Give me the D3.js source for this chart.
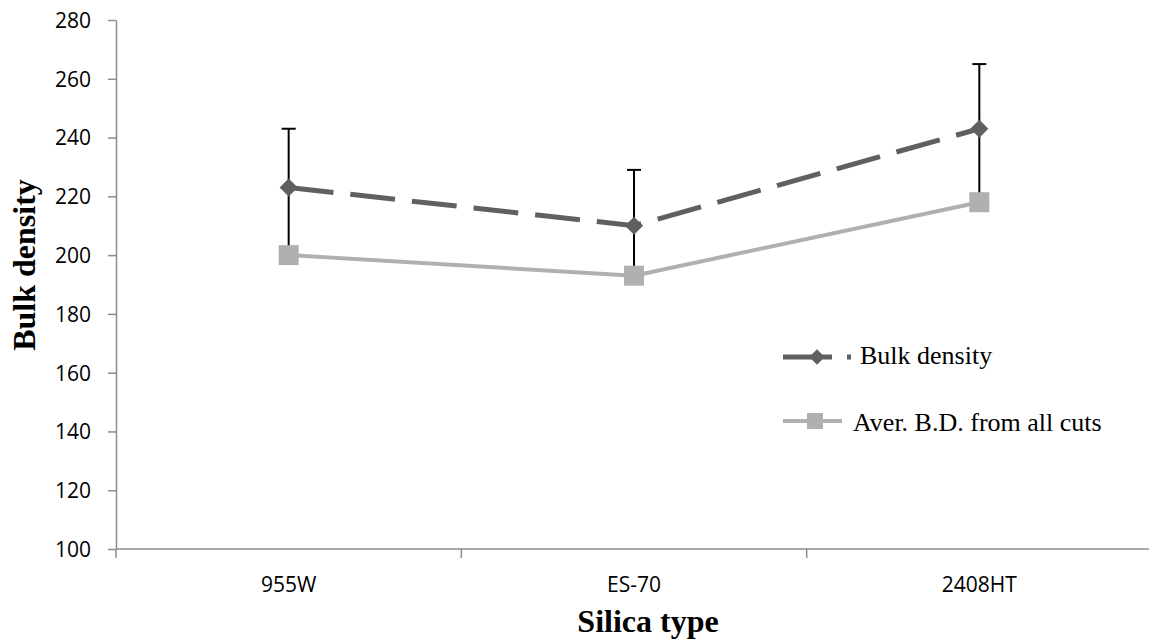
<!DOCTYPE html>
<html>
<head>
<meta charset="utf-8">
<script src="https://d3js.org/d3.v7.min.js"></script>
<style>
  body { margin: 0; background: #fff; }
  .axis path, .axis line { stroke: #8c8c8c; stroke-width: 1.5; }
  .axis text { font-family: "Open Sans", sans-serif; font-size: 21px; fill: #000; }
  .title { font-family: "Liberation Serif", serif; font-weight: bold; font-size: 32px; fill: #000; }
  .legend text { font-family: "Liberation Serif", serif; font-size: 26px; fill: #000; }
</style>
</head>
<body>
<div id="chart"></div>
<script>
// data
var categories = ["955W", "ES-70", "2408HT"];
var bulkDensity = [223, 210, 243];
var bulkError = [20, 19, 22];
var averageBD = [200, 193, 218];
var yTicks = [100, 120, 140, 160, 180, 200, 220, 240, 260, 280];
var seriesNames = ["Bulk density", "Aver. B.D. from all cuts"];

var width = 1149, height = 644;
var margin = {top: 20, right: -3, bottom: 95, left: 116};

var svg = d3.select("#chart").append("svg")
    .attr("width", width)
    .attr("height", height);

var x = d3.scaleBand()
    .domain(categories)
    .range([margin.left, width - margin.right]);

var y = d3.scaleLinear()
    .domain([100, 280])
    .range([height - margin.bottom, margin.top]);

var cx = function(i) { return x(categories[i]) + x.bandwidth() / 2; };

// x axis, ticks sit between the categories
var xAxis = svg.append("g")
    .attr("class", "axis")
    .attr("transform", "translate(0," + y(100) + ")");
xAxis.append("line")
    .attr("x1", margin.left).attr("x2", width)
    .attr("y1", 0).attr("y2", 0);
xAxis.selectAll(".tk")
    .data(categories)
    .enter().append("line")
    .attr("x1", function(d) { return x(d); })
    .attr("x2", function(d) { return x(d); })
    .attr("y1", 0).attr("y2", 9);
xAxis.selectAll("text")
    .data(categories)
    .enter().append("text")
    .attr("x", function(d) { return x(d) + x.bandwidth() / 2; })
    .attr("y", 43)
    .attr("text-anchor", "middle")
    .text(function(d) { return d; });

// y axis
var yAxis = svg.append("g")
    .attr("class", "axis")
    .attr("transform", "translate(" + margin.left + ",0)")
    .call(d3.axisLeft(y).tickValues(yTicks).tickSize(8).tickSizeOuter(0).tickPadding(17));
yAxis.selectAll("text").attr("dy", "0.35em");

// axis titles
svg.append("text")
    .attr("class", "title")
    .attr("transform", "translate(35,265) rotate(-90)")
    .attr("text-anchor", "middle")
    .text("Bulk density");

svg.append("text")
    .attr("class", "title")
    .attr("x", 648)
    .attr("y", 632)
    .attr("text-anchor", "middle")
    .text("Silica type");

// error bars (drawn under the markers)
var errG = svg.append("g");
bulkDensity.forEach(function(v, i) {
  var e = bulkError[i];
  errG.append("line")
      .attr("x1", cx(i)).attr("x2", cx(i))
      .attr("y1", y(v + e)).attr("y2", y(v - e))
      .attr("stroke", "#000").attr("stroke-width", 2);
  errG.append("line")
      .attr("x1", cx(i) - 7).attr("x2", cx(i) + 7)
      .attr("y1", y(v + e)).attr("y2", y(v + e))
      .attr("stroke", "#000").attr("stroke-width", 2);
});

var line = d3.line()
    .x(function(d, i) { return cx(i); })
    .y(function(d) { return y(d); });

// bulk density, dashed
svg.append("path")
    .datum(bulkDensity)
    .attr("fill", "none")
    .attr("stroke", "#606060")
    .attr("stroke-width", 5)
    .attr("stroke-dasharray", "45,17")
    .attr("d", line);

// average
svg.append("path")
    .datum(averageBD)
    .attr("fill", "none")
    .attr("stroke", "#b0b0b0")
    .attr("stroke-width", 4)
    .attr("d", line);

var diamond = d3.symbol().type(d3.symbolDiamond2).size(210);
var square = d3.symbol().type(d3.symbolSquare).size(400);

svg.selectAll(".dia")
    .data(bulkDensity)
    .enter().append("path")
    .attr("class", "dia")
    .attr("d", diamond)
    .attr("fill", "#606060")
    .attr("transform", function(d, i) { return "translate(" + cx(i) + "," + y(d) + ")"; });

svg.selectAll(".sq")
    .data(averageBD)
    .enter().append("path")
    .attr("class", "sq")
    .attr("d", square)
    .attr("fill", "#b0b0b0")
    .attr("transform", function(d, i) { return "translate(" + cx(i) + "," + y(d) + ")"; });

// legend
var legend = svg.append("g").attr("class", "legend");
var l1 = legend.append("g").attr("transform", "translate(783,357)");
l1.append("line").attr("x1", 0).attr("x2", 49).attr("y1", 0).attr("y2", 0)
    .attr("stroke", "#606060").attr("stroke-width", 5);
l1.append("rect").attr("x", 64).attr("y", -2.5).attr("width", 4).attr("height", 5)
    .attr("fill", "#606060");
l1.append("path").attr("d", diamond).attr("fill", "#606060")
    .attr("transform", "translate(34,0) scale(0.85)");
l1.append("text").attr("x", 77).attr("y", 7).text(seriesNames[0]);

var l2 = legend.append("g").attr("transform", "translate(783,421)");
l2.append("line").attr("x1", 0).attr("x2", 59).attr("y1", 0).attr("y2", 0)
    .attr("stroke", "#b0b0b0").attr("stroke-width", 4);
l2.append("path").attr("d", square).attr("fill", "#b0b0b0")
    .attr("transform", "translate(32,0) scale(0.8)");
l2.append("text").attr("x", 70).attr("y", 10).text(seriesNames[1]);
</script>
</body>
</html>
